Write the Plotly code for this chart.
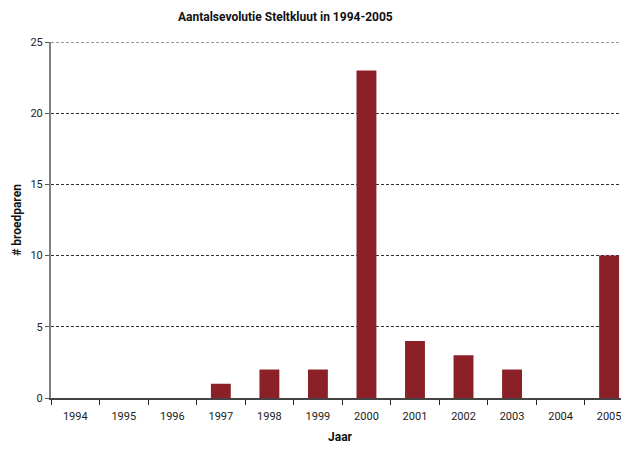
import plotly.graph_objects as go

years = ["1994", "1995", "1996", "1997", "1998", "1999", "2000", "2001", "2002", "2003", "2004", "2005"]
pairs = [0, 0, 0, 1, 2, 2, 23, 4, 3, 2, 0, 10]
y_ticks = [0, 5, 10, 15, 20, 25]

FONT = "Roboto, Arial, sans-serif"

# page body has an 8px margin; the figure starts at (8, 8) on screen
fig = go.Figure(go.Bar(
    x=years, y=pairs,
    marker=dict(color="#8B2029", line=dict(width=0)),
    width=0.41,
))

fig.update_layout(
    width=629, height=449,
    margin=dict(l=41, r=8, t=34, b=59),
    paper_bgcolor="white", plot_bgcolor="white",
    showlegend=False,
    font=dict(family=FONT, size=11, color="#222"),
    title=dict(text="<b>Aantalsevolutie Steltkluut in 1994-2005</b>",
               x=255/629, xref="paper", xanchor="center",
               y=1 - 9/449, yanchor="middle",
               font=dict(family=FONT, size=12, color="#111")),
)

# top gridline (plotly omits the grid line at the range edge)
fig.add_shape(type="line", xref="paper", yref="y", x0=0, x1=1,
              y0=y_ticks[-1], y1=y_ticks[-1],
              line=dict(color="#333", width=1, dash="3px,2px"), layer="below")

fig.update_xaxes(
    type="category",
    range=[-0.5, 11.41],
    tickson="boundaries",
    ticks="outside", ticklen=5, tickcolor="#222", tickwidth=1,
    ticklabelstandoff=7,
    showline=True, linecolor="#444", linewidth=2,
    showgrid=False,
    tickfont=dict(family=FONT, size=11, color="#222"),
    title=dict(text="<b>Jaar</b>", standoff=10,
               font=dict(family=FONT, size=12, color="#111")),
)

fig.update_yaxes(
    range=[0, 25],
    tickvals=y_ticks,
    ticks="outside", ticklen=4, tickcolor="#555",
    showline=True, linecolor="#808080", linewidth=2,
    showgrid=True, gridcolor="#333", griddash="3px,2px", gridwidth=1,
    zeroline=False,
    tickfont=dict(family=FONT, size=11, color="#222"),
    title=dict(text="<b># broedparen</b>", standoff=6,
               font=dict(family=FONT, size=12, color="#111")),
)

fig.write_html("out.html")
